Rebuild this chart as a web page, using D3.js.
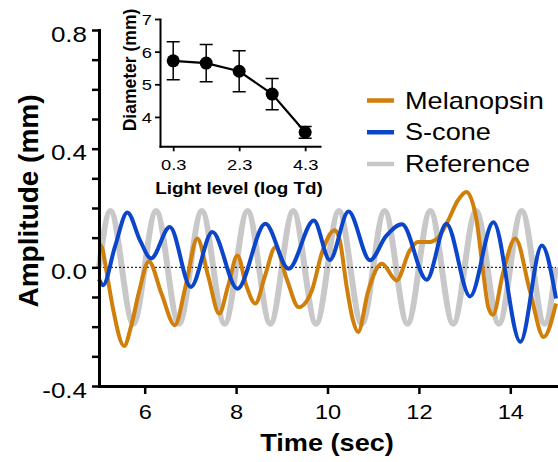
<!DOCTYPE html>
<html>
<head>
<meta charset="utf-8">
<script src="https://cdn.jsdelivr.net/npm/d3@7"></script>
<style>
  body { margin: 0; background: #fff; }
  svg { font-family: "Liberation Sans", Arial, Helvetica, sans-serif; }
</style>
</head>
<body>
<div id="chart"></div>
<script>
// Main panel: traces (time in sec, amplitude in mm)
const refTime = [5, 5.25, 5.5, 5.75, 6, 6.25, 6.5, 6.75, 7, 7.25, 7.5, 7.75, 8, 8.25, 8.5, 8.75,
  9, 9.25, 9.5, 9.75, 10, 10.25, 10.5, 10.75, 11, 11.25, 11.5, 11.75, 12, 12.25, 12.5, 12.75,
  13, 13.25, 13.5, 13.75, 14, 14.25, 14.5, 14.75, 15];
const refAmp = [0, 0.19, 0, -0.19, 0, 0.19, 0, -0.19, 0, 0.19, 0, -0.19, 0, 0.19, 0, -0.19,
  0, 0.19, 0, -0.19, 0, 0.19, 0, -0.19, 0, 0.19, 0, -0.19, 0, 0.19, 0, -0.19,
  0, 0.19, 0, -0.19, 0, 0.19, 0, -0.19, 0];

const melTime = [5.00, 5.07, 5.15, 5.30, 5.55, 5.70, 5.88, 6.09, 6.37, 6.66, 6.90, 7.15, 7.39, 7.63,
  7.83, 8.03, 8.22, 8.42, 8.63, 8.86, 9.11, 9.37, 9.66, 9.88, 10.16, 10.27, 10.42, 10.56, 10.67,
  10.89, 11.19, 11.51, 11.80, 11.98, 12.20, 12.42, 12.64, 12.85, 13.04, 13.26, 13.41, 13.52, 13.62,
  13.84, 14.11, 14.43, 14.73, 15.00];
const melAmp = [0.08, 0.065, 0.0, -0.134, -0.265, -0.2, -0.08, 0.02, -0.09, -0.195, -0.06, 0.097, -0.03, -0.156,
  -0.06, 0.04, -0.06, -0.122, -0.03, 0.068, -0.04, -0.134, -0.077, 0.05, 0.125, 0.09, -0.066, -0.18, -0.218,
  -0.08, 0.012, -0.044, 0.057, 0.085, 0.085, 0.10, 0.158, 0.225, 0.254, 0.16, -0.02, -0.135, -0.16,
  -0.02, 0.097, -0.08, -0.235, -0.122];

const sconeTime = [5.00, 5.09, 5.35, 5.62, 5.90, 6.14, 6.55, 7.01, 7.48, 8.03, 8.64, 9.15, 9.70, 10.05,
  10.46, 10.93, 11.28, 11.63, 12.17, 12.60, 13.12, 13.63, 14.22, 14.69, 15.00];
const sconeAmp = [-0.04, -0.06, 0.07, 0.185, 0.09, 0.03, 0.136, -0.066, 0.119, -0.072, 0.147, -0.005, 0.158, 0.025,
  0.188, 0.024, 0.105, 0.145, -0.042, 0.147, -0.098, 0.152, -0.251, 0.074, -0.105];

const timeTicks = [6, 8, 10, 12, 14];
const ampTicks = [-0.4, -0.3, -0.2, -0.1, 0, 0.1, 0.2, 0.3, 0.4, 0.5, 0.6, 0.7, 0.8];
const ampLabels = [-0.4, 0, 0.4, 0.8];

const seriesNames = ["Melanopsin", "S-cone", "Reference"];
const seriesColors = ["#d07f0b", "#0b45c9", "#c8c8c8"];

// Inset: pupil diameter vs light level
const lightLevel = [0.3, 1.3, 2.3, 3.3, 4.3];
const diameter = [5.72, 5.65, 5.40, 4.70, 3.53];
const diameterErr = [0.58, 0.57, 0.63, 0.48, 0.18];
const lightTicks = [0.3, 2.3, 4.3];
const diameterTicks = [4, 5, 6, 7];

const W = 558, H = 462;
const sx = 1.18; // the figure's lettering is a bit wide

const svg = d3.select("#chart").append("svg")
  .attr("width", W).attr("height", H);

function hText(sel, x, y, str, size, weight, anchor) {
  return sel.append("text")
    .attr("transform", `translate(${x},${y}) scale(${sx},1)`)
    .attr("text-anchor", anchor || "start")
    .style("font-size", size + "px")
    .style("font-weight", weight || "normal")
    .attr("fill", "#000")
    .text(str);
}

const fmt1 = v => (Math.abs(v) < 1e-9 ? 0 : v).toFixed(1);

// ---------- main panel ----------
const x = d3.scaleLinear().domain([5, 15]).range([99, 556]);
const y = d3.scaleLinear().domain([-0.4, 0.8]).range([386, 30]);

const toPts = (ts, vs) => ts.map((t, i) => [t, vs[i]]);
const line = d3.line().x(d => x(d[0])).y(d => y(d[1]));

svg.append("path")
  .attr("d", line.curve(d3.curveNatural)(toPts(refTime, refAmp)))
  .attr("fill", "none").attr("stroke", seriesColors[2]).attr("stroke-width", 6);

svg.append("line")
  .attr("x1", x(5)).attr("x2", x(15)).attr("y1", y(0)).attr("y2", y(0))
  .attr("stroke", "#000").attr("stroke-width", 1).attr("stroke-dasharray", "2,2");

svg.append("path")
  .attr("d", line.curve(d3.curveMonotoneX)(toPts(melTime, melAmp)))
  .attr("fill", "none").attr("stroke", seriesColors[0]).attr("stroke-width", 4)
  .attr("stroke-linejoin", "round");

svg.append("path")
  .attr("d", line.curve(d3.curveMonotoneX)(toPts(sconeTime, sconeAmp)))
  .attr("fill", "none").attr("stroke", seriesColors[1]).attr("stroke-width", 4)
  .attr("stroke-linejoin", "round");

const yAxis = svg.append("g")
  .attr("transform", `translate(${x(5)},0)`)
  .call(d3.axisLeft(y).tickValues(ampTicks).tickSize(7).tickSizeOuter(0)
    .tickFormat(v => ampLabels.some(a => Math.abs(a - v) < 1e-9) ? fmt1(v) : ""));
yAxis.select(".domain").attr("stroke-width", 3).attr("stroke-linecap", "square");
yAxis.selectAll(".tick line").attr("stroke-width", 2.5);
yAxis.selectAll(".tick text")
  .attr("x", null).attr("dy", "0.5em")
  .attr("transform", `translate(-12,0) scale(${sx},1)`)
  .style("font-size", "22px").attr("fill", "#000");

const xAxis = svg.append("g")
  .attr("transform", `translate(0,${y(-0.4)})`)
  .call(d3.axisBottom(x).tickValues(timeTicks).tickSize(8).tickPadding(11).tickSizeOuter(0)
    .tickFormat(d3.format("d")));
xAxis.select(".domain").attr("stroke-width", 3).attr("stroke-linecap", "square");
xAxis.selectAll(".tick line").attr("stroke-width", 2.5);
xAxis.selectAll(".tick text")
  .attr("transform", `scale(${sx},1)`)
  .style("font-size", "20px").attr("fill", "#000");

hText(svg, 327, 451, "Time (sec)", 23, "bold", "middle");

svg.append("text")
  .attr("transform", "translate(37.5,201) rotate(-90)")
  .attr("text-anchor", "middle")
  .style("font-size", "28px").style("font-weight", "bold")
  .text("Amplitude (mm)");

// legend
const legend = svg.append("g");
const legendY = d3.scalePoint().domain(seriesNames).range([100.5, 164]);
seriesNames.forEach((name, i) => {
  legend.append("line")
    .attr("x1", 367).attr("x2", 394)
    .attr("y1", legendY(name)).attr("y2", legendY(name))
    .attr("stroke", seriesColors[i]).attr("stroke-width", 4.5);
  hText(legend, 405, legendY(name) + 8, name, 23, "normal", "start");
});

// ---------- inset ----------
const ix = d3.scaleLinear().domain([-0.1, 4.75]).range([160, 320]);
const iy = d3.scaleLinear().domain([3.1, 7]).range([146.3, 19]);

const inset = svg.append("g");
const insetData = lightLevel.map((l, i) => ({ l, d: diameter[i], e: diameterErr[i] }));

inset.selectAll(".err").data(insetData).enter().append("path")
  .attr("class", "err")
  .attr("d", d => {
    const cx = ix(d.l), y1 = iy(d.d + d.e), y2 = iy(d.d - d.e);
    return `M${cx - 6.5},${y1}H${cx + 6.5}M${cx},${y1}V${y2}M${cx - 6.5},${y2}H${cx + 6.5}`;
  })
  .attr("fill", "none").attr("stroke", "#000").attr("stroke-width", 1.5);

inset.append("path")
  .attr("d", d3.line().x(d => ix(d.l)).y(d => iy(d.d))(insetData))
  .attr("fill", "none").attr("stroke", "#000").attr("stroke-width", 2.2);

inset.selectAll("circle").data(insetData).enter().append("circle")
  .attr("cx", d => ix(d.l)).attr("cy", d => iy(d.d)).attr("r", 6.5)
  .attr("fill", "#000");

const iyAxis = inset.append("g")
  .attr("transform", `translate(${ix(-0.1)},0)`)
  .call(d3.axisLeft(iy).tickValues(diameterTicks).tickSize(5).tickPadding(3).tickSizeOuter(0)
    .tickFormat(d3.format("d")));
iyAxis.select(".domain").attr("stroke-width", 2).attr("stroke-linecap", "square");
iyAxis.selectAll(".tick line").attr("stroke-width", 1.8);
iyAxis.selectAll(".tick text")
  .attr("x", null).attr("dy", "0.36em")
  .attr("transform", `translate(-8,0) scale(${sx},1)`)
  .style("font-size", "15.5px").attr("fill", "#000");

const ixAxis = inset.append("g")
  .attr("transform", `translate(0,${iy(3.1)})`)
  .call(d3.axisBottom(ix).tickValues(lightTicks).tickSize(5).tickPadding(8).tickSizeOuter(0)
    .tickFormat(d3.format(".1f")));
ixAxis.select(".domain").attr("stroke-width", 2).attr("stroke-linecap", "square");
ixAxis.selectAll(".tick line").attr("stroke-width", 1.8);
ixAxis.selectAll(".tick text")
  .attr("transform", `scale(${sx},1)`)
  .style("font-size", "15.5px").attr("fill", "#000");

hText(inset, 239, 194, "Light level (log Td)", 16, "bold", "middle");

inset.append("text")
  .attr("transform", "translate(136,70) rotate(-90)")
  .attr("text-anchor", "middle")
  .style("font-size", "17.5px").style("font-weight", "bold")
  .text("Diameter (mm)");
</script>
</body>
</html>
